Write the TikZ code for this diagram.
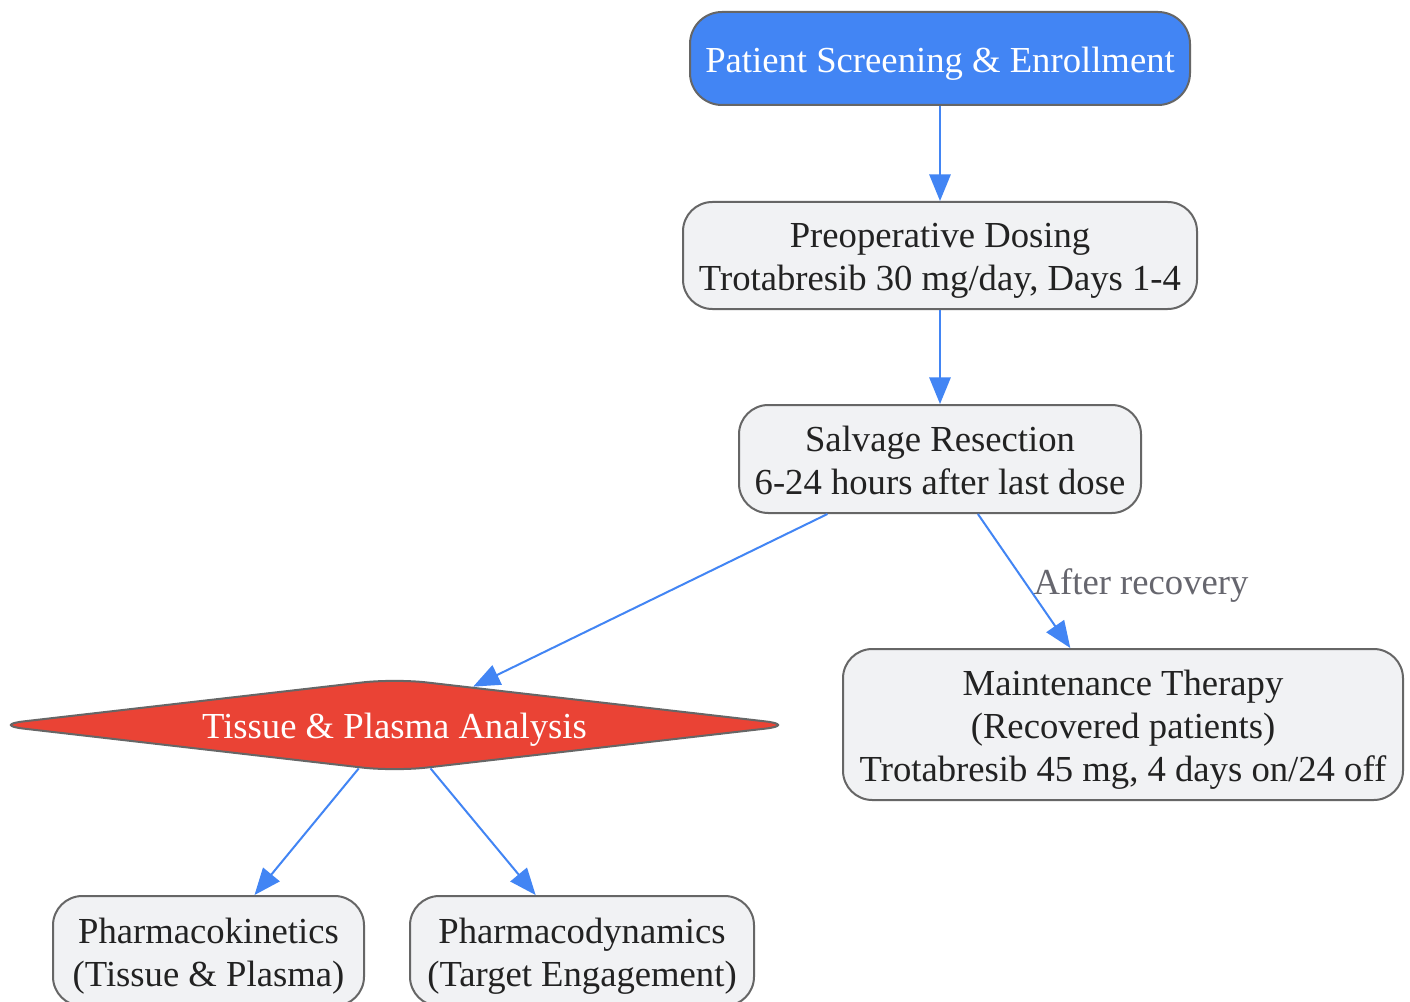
\documentclass[tikz,border=0pt]{standalone}
\usepackage{fontspec}
\setmainfont{Liberation Serif}
\usetikzlibrary{shapes.geometric,arrows.meta}
\definecolor{gblue}{RGB}{66,133,244}
\definecolor{gred}{RGB}{234,67,53}
\definecolor{boxfill}{RGB}{241,242,244}
\definecolor{boxline}{RGB}{102,102,102}
\definecolor{txt}{RGB}{34,34,34}
\definecolor{lbl}{RGB}{102,102,110}
\newcommand{\ls}{\rule[-5.35pt]{0pt}{32.25pt}}
\begin{document}
\begin{tikzpicture}[x=0.75pt,y=-0.75pt,
  textset/.style={font=\fontsize{27.5pt}{32.25pt}\selectfont,
    execute at end node={\ls}},
  base/.style={textset,draw=boxline,line width=1.5pt,align=center,inner sep=0pt},
  box/.style={base,rounded corners=22pt,fill=boxfill,text=txt},
  startbox/.style={base,rounded corners=24pt,fill=gblue,text=white},
  decision/.style={base,diamond,fill=gred,text=white,rounded corners=24pt},
  flow/.style={draw=gblue,line width=1.5pt,-{Triangle[length=20pt,width=16pt]}},
  elabel/.style={textset,text=lbl,inner sep=0pt}
]
\useasboundingbox (0,0) rectangle (1410,1002);
\fill[white] (0,0) rectangle (1410,1002);

\node[startbox,minimum width=375pt,minimum height=69.75pt] (screen) at (940,58.5) {\ls Patient Screening \& Enrollment};
\node[box,minimum width=385.5pt,minimum height=80.25pt] (preop) at (940,255.5) {\ls Preoperative Dosing\\Trotabresib 30 mg/day, Days 1-4};
\node[box,minimum width=301.5pt,minimum height=81pt] (salv) at (940,459) {\ls Salvage Resection\\6-24 hours after last dose};
\node[decision,minimum width=604pt,minimum height=70pt,aspect=8.6] (anal) at (394.5,725) {\ls Tissue \& Plasma Analysis};
\node[box,minimum width=420pt,minimum height=113.25pt] (maint) at (1123,724.5) {\ls Maintenance Therapy\\(Recovered patients)\\Trotabresib 45 mg, 4 days on/24 off};
\node[box,minimum width=233.25pt,minimum height=82.5pt] (pk) at (208.5,951) {\ls Pharmacokinetics\\(Tissue \& Plasma)};
\node[box,minimum width=258pt,minimum height=82.5pt] (pd) at (582,951) {\ls Pharmacodynamics\\(Target Engagement)};

\draw[flow] (screen) -- (preop);
\draw[flow] (preop) -- (salv);
\draw[flow] (salv) -- (anal);
\draw[flow] (salv) -- (maint);
\draw[flow] (anal) -- (pk);
\draw[flow] (anal) -- (pd);
\node[elabel] (lab) at (1141,580.5) {\ls After recovery};
\end{tikzpicture}
\end{document}
